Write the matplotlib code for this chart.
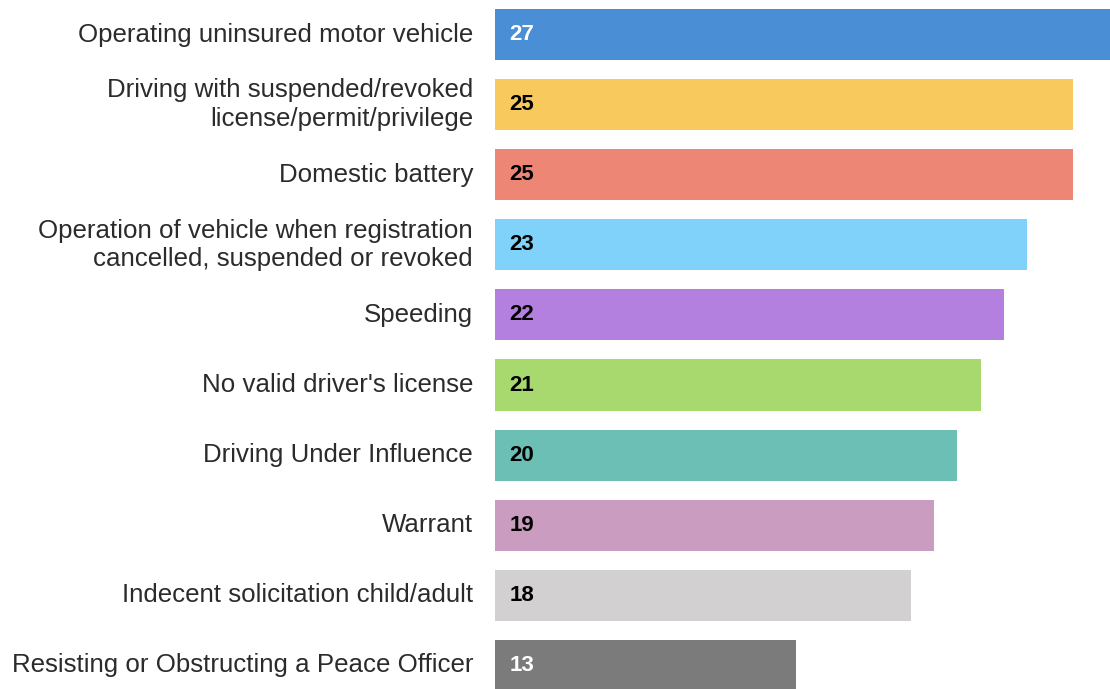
import matplotlib
matplotlib.use("Agg")
import matplotlib.pyplot as plt

# Data
categories = [
    "Operating uninsured motor vehicle",
    "Driving with suspended/revoked\nlicense/permit/privilege",
    "Domestic battery",
    "Operation of vehicle when registration\ncancelled, suspended or revoked",
    "Speeding",
    "No valid driver's license",
    "Driving Under Influence",
    "Warrant",
    "Indecent solicitation child/adult",
    "Resisting or Obstructing a Peace Officer",
]
counts = [27, 25, 25, 23, 22, 21, 20, 19, 18, 13]
colors = ["#4a8fd6", "#f8c95c", "#ee8676", "#80d2fb", "#b380e0",
          "#a8d96f", "#6cbfb4", "#c99cc0", "#d3d0d1", "#7b7b7b"]
label_colors = ["white", "black", "black", "black", "black",
                "black", "black", "black", "black", "white"]

plt.rcParams['font.family'] = ['Liberation Sans', 'DejaVu Sans']

W, H = 1110, 689
fig = plt.figure(figsize=(W / 100, H / 100), dpi=100)

# axes from the bar baseline (x=495px) to the right edge of the figure
ax = fig.add_axes([495 / W, 0, 1 - 495 / W, 1])
y = list(range(len(categories)))
ax.barh(y, counts, height=0.73, color=colors)

px_per_unit = 23.12
ax.set_xlim(0, (W - 495) / px_per_unit)
step = 70.1
ax.set_ylim((H - 34.5) / step, -34.5 / step)

for yi, cat, val, tc in zip(y, categories, counts, label_colors):
    ax.text(-0.95, yi, cat, ha='right', va='center', fontsize=18.6,
            color='#2b2b2b', linespacing=1.24)
    ax.text(0.63, yi, str(val), ha='left', va='center', fontsize=16,
            fontweight='bold', color=tc)

ax.axis('off')
fig.savefig("out.png", dpi=100)
